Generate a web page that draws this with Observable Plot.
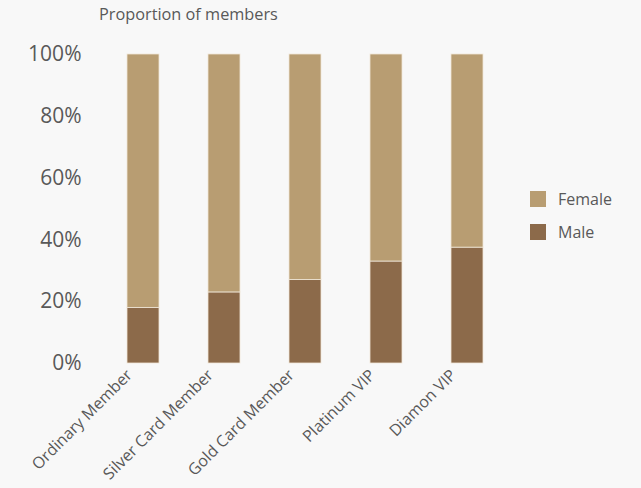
<!DOCTYPE html>
<html>
<head>
<meta charset="utf-8">
<script src="https://cdn.jsdelivr.net/npm/d3@7"></script>
<script src="https://cdn.jsdelivr.net/npm/@observablehq/plot@0.6"></script>
<style>
  html, body { margin: 0; padding: 0; background: #f8f8f8; }
  #wrap { position: relative; width: 641px; height: 488px; background: #f8f8f8; font-family: "Open Sans", "Noto Sans", sans-serif; }
  #title { position: absolute; left: 99px; top: 3px; font-size: 16.3px; color: #595959; }
  #legend { position: absolute; left: 530px; top: 182px; font-size: 16px; color: #595959; }
  .item { display: flex; align-items: center; height: 33px; }
  .sw { width: 16px; height: 16px; margin-right: 12px; }
</style>
</head>
<body>
<div id="wrap">
  <div id="title">Proportion of members</div>
  <div id="legend"></div>
</div>
<script>
const categories = ["Ordinary Member", "Silver Card Member", "Gold Card Member", "Platinum VIP", "Diamon VIP"];
const male = [18, 23, 27, 33, 37.5];
const female = [82, 77, 73, 67, 62.5];
const series = ["Male", "Female"];
const colors = ["#8c6a4a", "#b89d72"];
const yTicks = [0, 20, 40, 60, 80, 100];

const data = [];
categories.forEach((c, i) => {
  data.push({category: c, gender: "Male", value: male[i]});
  data.push({category: c, gender: "Female", value: female[i]});
});

const chart = Plot.plot({
  width: 641,
  height: 488,
  marginTop: 54,
  marginBottom: 125,
  marginLeft: 78,
  marginRight: 109,
  style: {background: "#f8f8f8", fontFamily: "'Open Sans', 'Noto Sans', sans-serif", color: "#595959"},
  x: {domain: categories, padding: 0.6, label: null},
  y: {domain: [0, 100], label: null},
  color: {domain: series, range: colors},
  marks: [
    Plot.barY(data, {x: "category", y: "value", fill: "gender", stroke: "#efe6d8", strokeWidth: 0.8, order: series}),
    Plot.axisY({ticks: yTicks, tickFormat: d => d + "%", tickSize: 0, tickPadding: -3, fontSize: 21, fill: "#595959"}),
    Plot.axisX({tickRotate: -45, tickSize: 0, tickPadding: 9, fontSize: 16, fill: "#595959", dx: -14})
  ]
});
document.getElementById("wrap").appendChild(chart);

const legend = document.getElementById("legend");
[["Female", colors[1]], ["Male", colors[0]]].forEach(([name, col]) => {
  const it = document.createElement("div");
  it.className = "item";
  it.innerHTML = `<div class="sw" style="background:${col}"></div><span>${name}</span>`;
  legend.appendChild(it);
});
</script>
</body>
</html>
